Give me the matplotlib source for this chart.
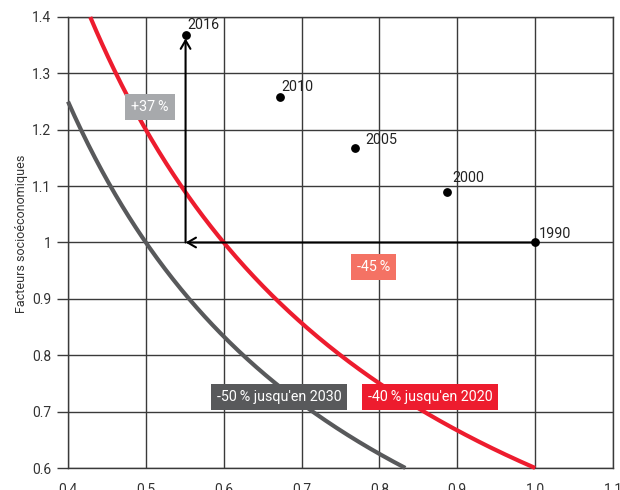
import numpy as np
import matplotlib
matplotlib.use("Agg")
import matplotlib.pyplot as plt

plt.rcParams['font.family'] = ['Roboto', 'DejaVu Sans']

# Data
years = ["1990", "2000", "2005", "2010", "2016"]
x_vals = [1.0, 0.887, 0.769, 0.672, 0.551]
y_vals = [1.0, 1.09, 1.168, 1.258, 1.368]

# iso-emission curves y = level / x
curve_levels = [0.6, 0.5]           # -40 % (2020), -50 % (2030)
curve_colors = ["#ed1c2e", "#58595b"]
curve_xmin = [0.4286, 0.4]
curve_xmax = [1.0, 0.8333]

xticks = [0.4, 0.5, 0.6, 0.7, 0.8, 0.9, 1.0, 1.1]
xtick_labels = ["0.4", "0.5", "0.6", "0.7", "0.8", "0.9", "1.0", "1.1"]
yticks = [0.6, 0.7, 0.8, 0.9, 1.0, 1.1, 1.2, 1.3, 1.4]
ytick_labels = ["0.6", "0.7", "0.8", "0.9", "1", "1.1", "1.2", "1.3", "1.4"]

# label offsets (pixels, left edge / vertical centre relative to point)
label_dx = [4, 5, 10, 2, 2]
label_dy = [8, 14, 8, 10, 10]

fig = plt.figure(figsize=(6.2, 4.9), dpi=100)
ax = fig.add_axes([68/620, 1-468/490, (613-68)/620, (468-17)/490])
ax.set_xlim(0.4, 1.1)
ax.set_ylim(0.6, 1.4)

grid_c = "#3a3a3a"
ax.set_xticks(xticks)
ax.set_xticklabels(xtick_labels)
ax.set_yticks(yticks)
ax.set_yticklabels(ytick_labels)
ax.grid(True, color=grid_c, linewidth=1.0)
for s in ax.spines.values():
    s.set_color(grid_c)
    s.set_linewidth(1.0)
ax.tick_params(axis='y', length=8, width=1.0, color=grid_c, labelsize=10, labelcolor="#333333", pad=4)
ax.tick_params(axis='x', length=0, labelsize=10, labelcolor="#333333", pad=11)

for lvl, col, x0, x1 in zip(curve_levels, curve_colors, curve_xmin, curve_xmax):
    xs = np.linspace(x0, x1, 300)
    ax.plot(xs, lvl / xs, color=col, linewidth=3, solid_capstyle='butt', zorder=3, clip_on=False)

# arrows
ax.annotate("", xy=(0.551, 1.0), xytext=(1.0, 1.0),
            arrowprops=dict(arrowstyle="->,head_length=0.6,head_width=0.35", color="black", lw=1.5,
                            shrinkA=0, shrinkB=0), zorder=4)
ax.annotate("", xy=(0.551, 1.362), xytext=(0.551, 1.0),
            arrowprops=dict(arrowstyle="->,head_length=0.6,head_width=0.35", color="black", lw=1.5,
                            shrinkA=0, shrinkB=0), zorder=4)

ax.scatter(x_vals, y_vals, s=28, color="black", zorder=5)
for yr, xv, yv, dx, dy in zip(years, x_vals, y_vals, label_dx, label_dy):
    ax.annotate(yr, (xv, yv), xytext=(dx * 0.72, dy * 0.72), textcoords="offset points",
                fontsize=10.3, color="#222222", ha="left", va="center", zorder=6)

def box(x, y, txt, fc):
    ax.text(x, y, txt, ha="center", va="center", fontsize=10.3, color="white", zorder=7,
            bbox=dict(boxstyle="square,pad=0.42", fc=fc, ec="none"))

box(0.505, 1.24, "+37\u2009%", "#a7a9ac")
box(0.792, 0.957, "-45\u2009%", "#f47264")
box(0.671, 0.726, "-50\u2009% jusqu'en 2030", "#58595b")
box(0.865, 0.726, "-40\u2009% jusqu'en 2020", "#ed1c2e")

fig.text(22/620, 1-234/490, "Facteurs socioéconomiques", rotation=90, ha="center", va="center",
         fontsize=9, color="#333333")

fig.savefig("out.png", dpi=100)
